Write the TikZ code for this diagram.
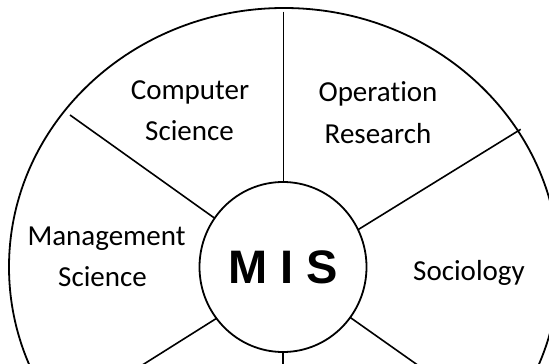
\documentclass[tikz,border=0pt]{standalone}
\usepackage{fontspec}
\setmainfont{Carlito}[Ligatures=NoCommon]
\newfontfamily\misfont{Liberation Sans}
\usetikzlibrary{shapes.geometric}
\tikzset{
  ring/.style={draw=black, line width=1.8pt},
  spoke/.style={draw=black, line width=1.6pt},
  lbl/.style={anchor=base, inner sep=0pt, font=\fontsize{29}{35}\selectfont},
  hub/.style={ellipse, draw=black, line width=1.8pt, fill=white, inner sep=0pt,
              minimum width=167pt, minimum height=170pt,
              font=\misfont\bfseries\fontsize{47}{50}\selectfont}
}
\begin{document}
\begin{tikzpicture}[x=1pt,y=-1pt]
\useasboundingbox (0,0) rectangle (549,364);
\clip (0,0) rectangle (549,364);
% outer wheel
\draw[ring] (284,267) ellipse [x radius=275pt, y radius=259pt];
% spoke end points
\coordinate (tO) at (283.5,11.5);
\coordinate (tI) at (283.5,267);
\coordinate (ulO) at (70,115);
\coordinate (ulI) at (283,267);
\coordinate (urO) at (520.7,129.3);
\coordinate (urI) at (283,276);
\coordinate (llO) at (140,366.5);
\coordinate (llI) at (283,276.5);
\coordinate (bO) at (283,370);
\coordinate (bI) at (283,267);
\coordinate (lrO) at (419,366);
\coordinate (lrI) at (283,270);
\draw[spoke] (tO) -- (tI);
\draw[spoke] (ulO) -- (ulI);
\draw[spoke] (urO) -- (urI);
\draw[spoke] (llO) -- (llI);
\draw[spoke] (bO) -- (bI);
\draw[spoke] (lrO) -- (lrI);
% hub
\node[hub] (mis) at (283,267) {M I S};
% labels
\node[lbl] (cs1) at (190,99) {Computer};
\node[lbl] (cs2) at (189.5,140) {Science};
\node[lbl] (or1) at (378,101) {Operation};
\node[lbl] (or2) at (378,143) {Research};
\node[lbl] (ms1) at (106.5,245) {Management};
\node[lbl] (ms2) at (102.5,286.5) {Science};
\node[lbl] (soc) at (469,280) {Sociology};
\end{tikzpicture}
\end{document}
